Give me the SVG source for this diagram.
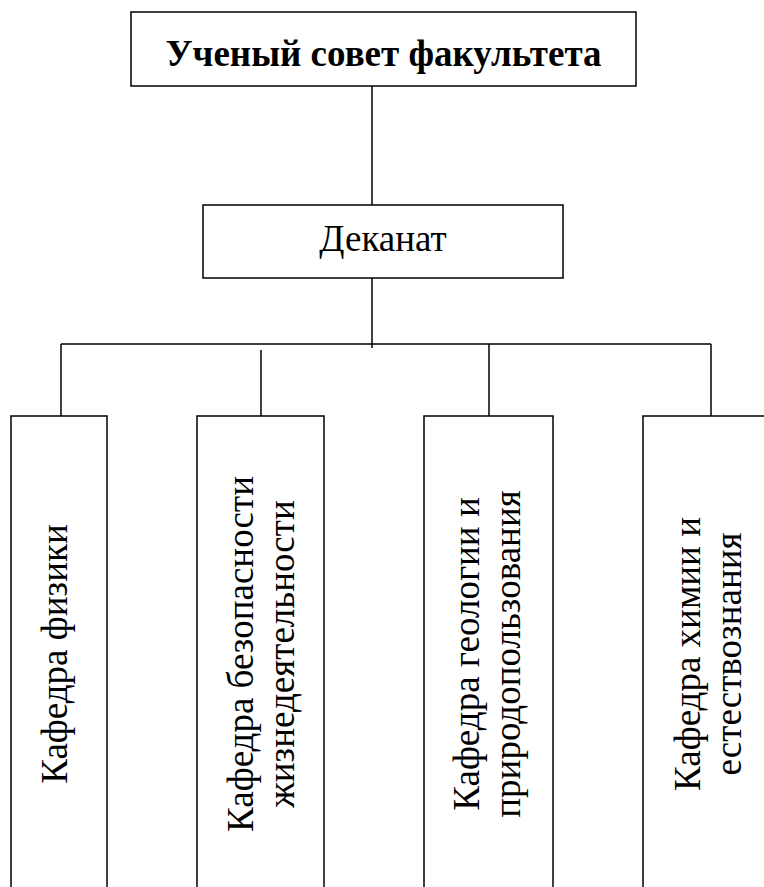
<svg xmlns="http://www.w3.org/2000/svg" width="764" height="887" viewBox="0 0 764 887">
<style>
.box{fill:#fff;stroke:#000;stroke-width:1.5}
.ln{stroke:#000;stroke-width:1.5;fill:none}
.t{font-family:"Liberation Serif","Times New Roman",serif;font-size:37px;fill:#000;text-anchor:middle}
.b{font-weight:bold}
</style>
<rect width="764" height="887" fill="#fff"/>
<g id="connectors">
<line class="ln" x1="372" y1="86" x2="372" y2="205"/>
<line class="ln" x1="372" y1="278" x2="372" y2="348"/>
<line class="ln" x1="61" y1="344" x2="711" y2="344"/>
<line class="ln" x1="61" y1="344" x2="61" y2="416"/>
<line class="ln" x1="261" y1="350" x2="261" y2="416"/>
<line class="ln" x1="489" y1="344" x2="489" y2="416"/>
<line class="ln" x1="711" y1="344" x2="711" y2="416"/>
</g>
<g id="council">
<rect class="box" x="131" y="12" width="505" height="74"/>
<text class="t b" x="383.5" y="66">Ученый совет факультета</text>
</g>
<g id="deanery">
<rect class="box" x="203" y="205" width="360" height="73"/>
<text class="t" x="383" y="251">Деканат</text>
</g>
<g id="physics">
<rect class="box" x="11" y="416" width="96" height="500"/>
<text class="t" transform="translate(66.5,654) rotate(-90)">Кафедра физики</text>
</g>
<g id="safety">
<rect class="box" x="197" y="416" width="127" height="500"/>
<text class="t" transform="translate(253,654) rotate(-90)">Кафедра безопасности</text>
<text class="t" transform="translate(294,654) rotate(-90)">жизнедеятельности</text>
</g>
<g id="geology">
<rect class="box" x="424" y="416" width="129" height="500"/>
<text class="t" transform="translate(479,654) rotate(-90)">Кафедра геологии и</text>
<text class="t" transform="translate(520,654) rotate(-90)">природопользования</text>
</g>
<g id="chemistry">
<rect class="box" x="643" y="416" width="200" height="500"/>
<text class="t" transform="translate(700,654) rotate(-90)">Кафедра химии и</text>
<text class="t" transform="translate(741,654) rotate(-90)">естествознания</text>
</g>
</svg>
